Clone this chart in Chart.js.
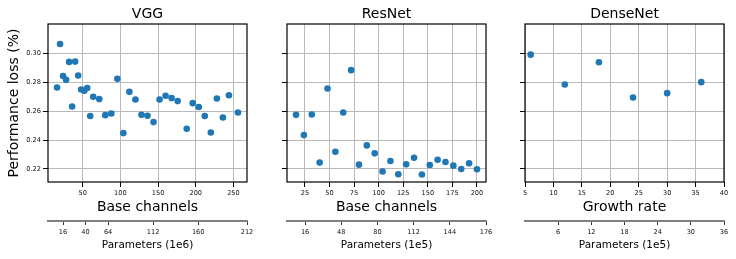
<!DOCTYPE html>
<html><head><meta charset="utf-8">
<script src="https://cdn.jsdelivr.net/npm/chart.js@4.4.0/dist/chart.umd.min.js"></script>
<style>
html,body{margin:0;padding:0;background:#fff;}
#wrap{position:relative;width:736px;height:259px;overflow:hidden;background:#fff;}
canvas{position:absolute;top:0;}
</style></head><body>
<div id="wrap">
<canvas id="c1" style="left:0px;width:262px;height:259px" width="262" height="259"></canvas>
<canvas id="c2" style="left:277px;width:223px;height:259px" width="223" height="259"></canvas>
<canvas id="c3" style="left:515px;width:221px;height:259px" width="221" height="259"></canvas>
</div>
<script>
// ---- data ----
const vggChannels = [16,20,24,28,32,36,40,44,48,52,56,60,64,72,80,88,96,104,112,120,128,136,144,152,160,168,176,188,196,204,212,220,228,236,244,256];
const vggLoss = [0.2763,0.3064,0.2843,0.2816,0.2940,0.2632,0.2942,0.2846,0.2749,0.2740,0.2759,0.2566,0.2699,0.2683,0.2572,0.2583,0.2823,0.2448,0.2733,0.2680,0.2574,0.2568,0.2524,0.2680,0.2706,0.2690,0.2669,0.2478,0.2655,0.2628,0.2566,0.2452,0.2687,0.2556,0.2710,0.2590];

const resChannels = [16,24,32,40,48,56,64,72,80,88,96,104,112,120,128,136,144,152,160,168,176,184,192,200];
const resLoss = [0.2574,0.2434,0.2577,0.2244,0.2756,0.2319,0.2590,0.2883,0.2230,0.2363,0.2308,0.2183,0.2255,0.2164,0.2232,0.2278,0.2162,0.2227,0.2264,0.2248,0.2223,0.2200,0.2239,0.2198];

const denseGrowth = [6,12,18,24,30,36];
const denseLoss = [0.2990,0.2784,0.2938,0.2694,0.2724,0.2800];

const lossTicks = [0.22,0.24,0.26,0.28,0.30];
const vggTicks = [50,100,150,200,250];
const resTicks = [25,50,75,100,125,150,175,200];
const denseTicks = [5,10,15,20,25,30,35,40];
const vggParamTicks = [16,40,64,112,160,212];
const resParamTicks = [16,48,80,112,144,176];
const denseParamTicks = [6,12,18,24,30,36];

const panelTitles = ['VGG','ResNet','DenseNet'];
const xTitles = ['Base channels','Base channels','Growth rate'];
const paramTitles = ['Parameters (1e6)','Parameters (1e5)','Parameters (1e5)'];
const yTitle = 'Performance loss (%)';

// ---- rendering ----
const FONT = "'DejaVu Sans', 'Liberation Sans', sans-serif";
const BLUE = '#1f77b4';
const GRID = '#bababa';

const framePlugin = {
  id: 'frame',
  afterDatasetsDraw(chart) {
    const {ctx, chartArea: a} = chart;
    ctx.save();
    ctx.strokeStyle = '#000';
    ctx.lineWidth = 1.2;
    ctx.strokeRect(a.left, a.top, a.right - a.left, a.bottom - a.top);
    ctx.restore();
  }
};
const titlePlugin = {
  id: 'panelTitle',
  afterDraw(chart, args, opts) {
    const {ctx, chartArea: a} = chart;
    ctx.save();
    ctx.fillStyle = '#000';
    ctx.font = '14px ' + FONT;
    ctx.textAlign = 'center';
    ctx.textBaseline = 'middle';
    ctx.fillText(opts.text, (a.left + a.right) / 2, 14);
    ctx.restore();
  }
};

function setTicks(arr) { return s => { s.ticks = arr.map(v => ({value: v})); }; }

function makePanel(id, xs, ys, xmin, xmax, xticks, pmax, pticks, idx, showY, yWidth, padRight) {
  const pts = xs.map((x, i) => ({x: x, y: ys[i]}));
  new Chart(document.getElementById(id), {
    type: 'scatter',
    data: { datasets: [{ data: pts, backgroundColor: BLUE, borderWidth: 0, pointRadius: 3.3, pointHoverRadius: 3.3 }] },
    options: {
      responsive: false, animation: false, events: [],
      layout: { padding: { top: 24, right: padRight, left: 0, bottom: 0 } },
      plugins: { legend: { display: false }, tooltip: { enabled: false }, panelTitle: { text: panelTitles[idx] } },
      scales: {
        x: {
          type: 'linear', position: 'bottom', min: xmin, max: xmax, weight: 0,
          afterBuildTicks: setTicks(xticks),
          afterFit: s => { s.height = 39; },
          grid: { display: true, color: GRID, lineWidth: 1, tickColor: '#000', tickLength: 5, tickWidth: 1 },
          border: { display: false },
          ticks: { color: '#111', font: { family: FONT, size: 6.6 }, padding: 2, maxRotation: 0, autoSkip: false, callback: v => String(v) },
          title: { display: true, text: xTitles[idx], color: '#000', font: { family: FONT, size: 14 }, padding: { top: 0, bottom: 5 } }
        },
        x2: {
          type: 'linear', position: 'bottom', min: 0, max: pmax, weight: 1,
          afterBuildTicks: setTicks(pticks),
          afterFit: s => { s.height = 38; },
          grid: { display: true, drawOnChartArea: false, tickColor: '#333', tickLength: 4, tickWidth: 1 },
          border: { display: true, color: '#808080', width: 2 },
          ticks: { color: '#111', font: { family: FONT, size: 6.6 }, padding: 3, maxRotation: 0, autoSkip: false, callback: v => String(v) },
          title: { display: true, text: paramTitles[idx], color: '#000', font: { family: FONT, size: 10.5 }, padding: { top: 0, bottom: 7 } }
        },
        y: {
          type: 'linear', position: 'left', min: 0.211, max: 0.3202,
          afterBuildTicks: setTicks(lossTicks),
          afterFit: s => { s.width = yWidth; },
          grid: { display: true, color: GRID, lineWidth: 1, tickColor: '#000', tickLength: 5, tickWidth: 1 },
          border: { display: false },
          ticks: { display: showY, color: '#111', font: { family: FONT, size: 6.6 }, padding: 2, callback: v => v.toFixed(2) },
          title: { display: showY, text: yTitle, color: '#000', font: { family: FONT, size: 14 }, padding: { top: 6, bottom: 0 } }
        }
      }
    },
    plugins: [framePlugin, titlePlugin]
  });
}

makePanel('c1', vggChannels, vggLoss, 4, 268, vggTicks, 212, vggParamTicks, 0, true, 48, 15);
makePanel('c2', resChannels, resLoss, 6.8, 209.2, resTicks, 176, resParamTicks, 1, false, 10, 14);
makePanel('c3', denseGrowth, denseLoss, 5, 40, denseTicks, 36, denseParamTicks, 2, false, 10, 12);
</script>
</body></html>
